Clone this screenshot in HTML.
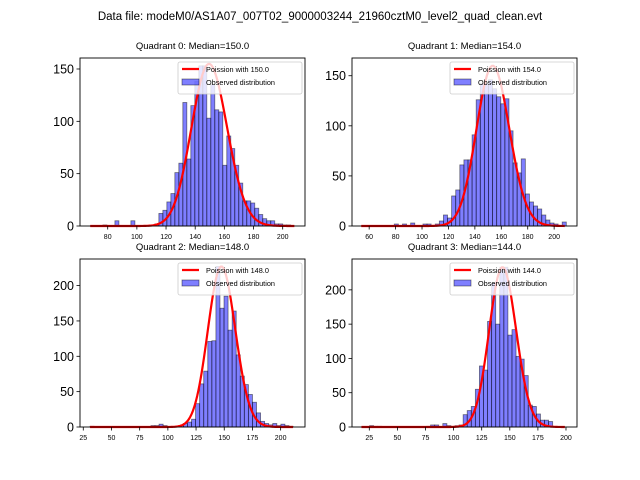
<!DOCTYPE html>
<html><head><meta charset="utf-8"><style>
body{margin:0;background:#fff;}
svg{display:block;font-family:"Liberation Sans","DejaVu Sans",sans-serif;}
</style></head><body>
<svg id="fig" width="640" height="480" viewBox="0 0 640 480">
<rect width="640" height="480" fill="#fff"/>
<text x="320" y="20" text-anchor="middle" font-size="11.5">Data file: modeM0/AS1A07_007T02_9000003244_21960cztM0_level2_quad_clean.evt</text>
</svg>
<script>
// Quadrant names and medians
const quadTitles = ["Quadrant 0: Median=150.0","Quadrant 1: Median=154.0","Quadrant 2: Median=148.0","Quadrant 3: Median=144.0"];
const lambdas = [150, 154, 148, 144];
const poissonScale = [4755, 4977, 6920, 7008];
const binStart = [68.5, 54.2, 31, 18];
const binWidth = [2.74, 3.1, 3.6, 3.62];
const curveRange = [[68,208],[54,208],[31,211],[18,199]];
const counts0 = [0,0,0,1,0,0,5,0,0,0,5,0,0,0,0,0,2,12,15,23,31,51,60,118,64,115,138,153,153,103,135,111,109,58,86,74,58,41,24,24,22,17,11,7,5,5,2,2,1,1];
const counts1 = [0,0,0,0,0,0,0,0,2,0,2,0,3,0,0,2,2,0,2,5,11,8,30,36,61,66,66,91,126,142,142,146,137,129,122,127,95,63,53,67,32,24,20,17,11,6,3,2,0,4];
const counts2 = [1,0,0,0,0,0,0,0,0,0,0,0,0,0,0,2,2,4,2,0,0,1,2,5,7,11,33,61,79,121,122,227,168,185,137,164,102,72,60,46,35,20,8,5,3,5,2,4,2,1];
const counts3 = [0,0,2,1,1,0,0,0,0,0,0,0,0,0,0,0,1,3,3,0,5,2,1,2,3,18,24,30,55,89,83,154,210,150,233,233,134,142,103,99,75,32,30,19,10,10,8,0,0,0];
const allCounts = [counts0, counts1, counts2, counts3];
const xDomains = [[61,215.3],[47,217.3],[22.1,221.6],[9.6,209.8]];
const yDomains = [[0,160.5],[0,167.7],[0,237.6],[0,245]];
const xTicks = [[80,100,120,140,160,180,200],[60,80,100,120,140,160,180,200],[25,50,75,100,125,150,175,200],[25,50,75,100,125,150,175,200]];
const yTicks = [[0,50,100,150],[0,50,100,150],[0,50,100,150,200],[0,50,100,150,200]];
const boxes = [[80,58,225,168],[352,58,225,168],[80,259,225,168],[352,259,225,168]];

const NS="http://www.w3.org/2000/svg";
const svg=document.getElementById('fig');
function mk(tag,attrs,parent){const e=document.createElementNS(NS,tag);for(const k in attrs)e.setAttribute(k,attrs[k]);(parent||svg).appendChild(e);return e;}
function lgamma(z){const c=[76.18009172947146,-86.50532032941677,24.01409824083091,-1.231739572450155,0.1208650973866179e-2,-0.5395239384953e-5];let x=z,y=z,t=x+5.5;t-=(x+0.5)*Math.log(t);let s=1.000000000190015;for(let j=0;j<6;j++)s+=c[j]/++y;return -t+Math.log(2.5066282746310005*s/x);}

for(let q=0;q<4;q++){
  const [bx,by,bw,bh]=boxes[q];
  const [x0,x1]=xDomains[q],[y0,y1]=yDomains[q];
  const sx=v=>bx+(v-x0)/(x1-x0)*bw;
  const sy=v=>by+bh-(v-y0)/(y1-y0)*bh;
  const g=mk('g',{});
  
  
  const t=mk('text',{x:bx+bw/2,y:by-9,'text-anchor':'middle','font-size':'9.5'},g);
  t.textContent=quadTitles[q];
  
  
  const cts=allCounts[q];
  for(let i=0;i<cts.length;i++){
    if(cts[i]<=0)continue;
    const l=binStart[q]+i*binWidth[q];
    const r=mk('rect',{x:sx(l),y:sy(cts[i]),width:sx(l+binWidth[q])-sx(l),height:sy(0)-sy(cts[i]),fill:'rgba(0,0,255,0.5)',stroke:'rgba(0,0,0,0.5)','stroke-width':'0.8'},g);
    
    
  }
  let d='';const lam=lambdas[q];
  for(let k=curveRange[q][0];k<=curveRange[q][1];k++){
    const p=Math.exp(k*Math.log(lam)-lam-lgamma(k+1))*poissonScale[q];
    d+=(d?'L':'M')+sx(k).toFixed(2)+','+sy(p).toFixed(2);
  }
  const pl=mk('path',{d:d,fill:'none',stroke:'#ff0000','stroke-width':'2.2'},g);
  
  
  const fr=mk('rect',{x:bx,y:by,width:bw,height:bh,fill:'none',stroke:'#000','stroke-width':'0.9'},g);
  
  
  xTicks[q].forEach(v=>{
    const X=sx(v);
    mk('line',{x1:X,x2:X,y1:by+bh,y2:by+bh+3.5,stroke:'#000','stroke-width':'0.8'},g);
    const tx=mk('text',{x:X,y:by+bh+13,'text-anchor':'middle','font-size':'7'},g);
    tx.textContent=v;
    
    
  });
  yTicks[q].forEach(v=>{
    const Y=sy(v);
    mk('line',{x1:bx-3.5,x2:bx,y1:Y,y2:Y,stroke:'#000','stroke-width':'0.8'},g);
    const ty=mk('text',{x:bx-6,y:Y+4.5,'text-anchor':'end','font-size':'12.5'},g);
    ty.textContent=v;
    
    
  });
  const lx=bx+bw-127, ly=by+4;
  const lg=mk('g',{},g);
  
  
  mk('rect',{x:lx,y:ly,width:124,height:32,rx:2,fill:'rgba(255,255,255,0.8)',stroke:'#ccc','stroke-width':'0.8'},lg);
  mk('line',{x1:lx+4,x2:lx+21,y1:ly+7,y2:ly+7,stroke:'#ff0000','stroke-width':'2.2'},lg);
  mk('rect',{x:lx+4,y:ly+17,width:17,height:6,fill:'rgba(0,0,255,0.5)',stroke:'rgba(0,0,0,0.5)','stroke-width':'0.8'},lg);
  const l1=mk('text',{x:lx+28,y:ly+10,'font-size':'7.3'},lg);
  l1.textContent='Poission with '+lambdas[q].toFixed(1);
  
  
  const l2=mk('text',{x:lx+28,y:ly+23,'font-size':'7.3'},lg);
  l2.textContent='Observed distribution';
  
  
}
</script>
</body></html>
